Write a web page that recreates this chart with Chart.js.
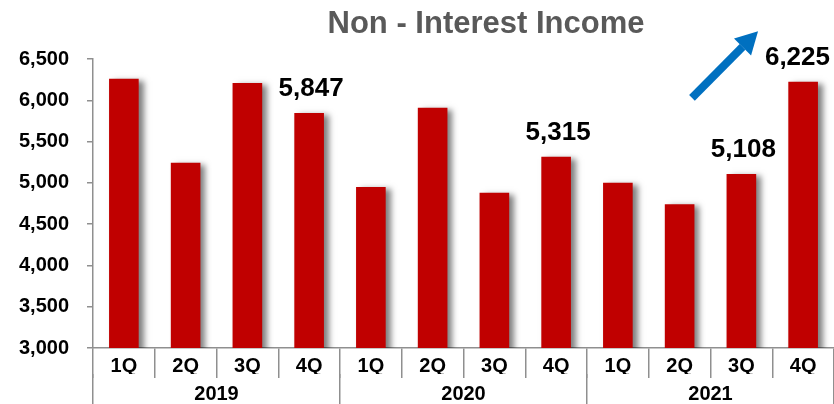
<!DOCTYPE html>
<html>
<head>
<meta charset="utf-8">
<title>Non - Interest Income</title>
<script src="https://cdn.jsdelivr.net/npm/chart.js@4/dist/chart.umd.min.js"></script>
<style>
    html, body { margin: 0; padding: 0; background: #fff; }
    #wrap { width: 834px; height: 404px; position: relative; }
</style>
</head>
<body>
<div id="wrap"><canvas id="incomeChart"></canvas></div>
<script>
// Data
const quarters = ['1Q', '2Q', '3Q', '4Q', '1Q', '2Q', '3Q', '4Q', '1Q', '2Q', '3Q', '4Q'];
const years = ['2019', '2020', '2021'];
const income = [6260, 5245, 6210, 5847, 4950, 5910, 4880, 5315, 5000, 4740, 5108, 6225];
const showValue = [false, false, false, true, false, false, false, true, false, false, true, true];
const yTicks = { min: 3000, max: 6500, step: 500 };
const chartTitle = 'Non - Interest Income';

// growth arrow, given in data space (category index, value)
const arrowFrom = { x: 9.2, y: 6030 };
const arrowTo = { x: 10.27, y: 6835 };

const FONT = 'Arial, "Liberation Sans", sans-serif';
const AXIS_GRAY = '#8f8f8f';

const fmt = v => v.toLocaleString('en-US');

// soft shadow on the right of the bars
const barShadow = {
    id: 'barShadow',
    beforeDatasetsDraw(chart) {
        const ctx = chart.ctx;
        ctx.save();
        ctx.shadowColor = 'rgba(0, 0, 0, 0.5)';
        ctx.shadowBlur = 6;
        ctx.shadowOffsetX = 5;
        ctx.shadowOffsetY = 2;
    },
    afterDatasetsDraw(chart) {
        chart.ctx.restore();
    }
};

// value labels, title and arrow
const extras = {
    id: 'extras',
    afterDraw(chart) {
        const ctx = chart.ctx;
        const meta = chart.getDatasetMeta(0);
        const x = chart.scales.x;
        const y = chart.scales.y;

        ctx.save();
        ctx.fillStyle = '#000';
        ctx.font = 'bold 26px ' + FONT;
        ctx.textAlign = 'center';
        ctx.textBaseline = 'alphabetic';
        meta.data.forEach((bar, i) => {
            if (!showValue[i]) return;
            const txt = fmt(income[i]);
            const half = ctx.measureText(txt).width / 2;
            // keep the label inside the canvas
            const cx = Math.min(bar.x + 2, chart.width - 4 - half);
            ctx.fillText(txt, cx, bar.y - 17);
        });

        // title
        ctx.fillStyle = '#595959';
        ctx.font = 'bold 31px ' + FONT;
        ctx.fillText(chartTitle, 486, 33);

        // arrow
        const x1 = x.getPixelForValue(arrowFrom.x), y1 = y.getPixelForValue(arrowFrom.y);
        const x2 = x.getPixelForValue(arrowTo.x), y2 = y.getPixelForValue(arrowTo.y);
        const ang = Math.atan2(y2 - y1, x2 - x1);
        const headLen = 22, headW = 12;
        const bx = x2 - headLen * Math.cos(ang), by = y2 - headLen * Math.sin(ang);
        ctx.strokeStyle = '#0070C0';
        ctx.fillStyle = '#0070C0';
        ctx.lineWidth = 8;
        ctx.beginPath();
        ctx.moveTo(x1, y1);
        ctx.lineTo(bx, by);
        ctx.stroke();
        ctx.beginPath();
        ctx.moveTo(x2, y2);
        ctx.lineTo(bx + headW * Math.sin(ang), by - headW * Math.cos(ang));
        ctx.lineTo(bx - headW * Math.sin(ang), by + headW * Math.cos(ang));
        ctx.closePath();
        ctx.fill();
        ctx.restore();
    }
};

const ctx = document.getElementById('incomeChart').getContext('2d');
new Chart(ctx, {
    type: 'bar',
    data: {
        labels: quarters,
        datasets: [{
            label: chartTitle,
            data: income,
            backgroundColor: '#C00000',
            borderWidth: 0,
            categoryPercentage: 1,
            barPercentage: 0.48,
            xAxisID: 'x',
            yAxisID: 'y'
        }]
    },
    options: {
        responsive: true,
        maintainAspectRatio: false,
        animation: false,
        layout: { padding: { top: 59, left: 0, right: 0, bottom: 0 } },
        plugins: {
            legend: { display: false },
            tooltip: { enabled: false },
            title: { display: false }
        },
        scales: {
            x: {
                type: 'category',
                position: 'bottom',
                offset: true,
                grid: {
                    offset: true,
                    drawOnChartArea: false,
                    tickLength: 30,
                    color: AXIS_GRAY,
                    lineWidth: 1.5
                },
                border: { color: AXIS_GRAY, width: 1.5 },
                ticks: {
                    color: '#000',
                    padding: -24,
                    maxRotation: 0,
                    autoSkip: false,
                    font: { family: FONT, size: 20, weight: 'bold' }
                },
                afterFit(scale) { scale.height = 26; }
            },
            x2: {
                type: 'category',
                position: 'bottom',
                labels: years,
                offset: true,
                grid: {
                    offset: true,
                    drawOnChartArea: false,
                    tickLength: 30,
                    color: AXIS_GRAY,
                    lineWidth: 1.5
                },
                border: { display: false },
                ticks: {
                    color: '#000',
                    padding: -22,
                    maxRotation: 0,
                    font: { family: FONT, size: 20, weight: 'bold' }
                },
                afterFit(scale) { scale.height = 30; }
            },
            y: {
                min: yTicks.min,
                max: yTicks.max,
                grid: {
                    drawOnChartArea: false,
                    tickLength: 6,
                    color: AXIS_GRAY,
                    lineWidth: 1.5
                },
                border: { color: AXIS_GRAY, width: 1.5 },
                ticks: {
                    stepSize: yTicks.step,
                    color: '#000',
                    padding: 18,
                    font: { family: FONT, size: 20, weight: 'bold' },
                    callback: v => fmt(v)
                },
                afterFit(scale) { scale.width = 93; }
            }
        }
    },
    plugins: [barShadow, extras]
});
</script>
</body>
</html>
